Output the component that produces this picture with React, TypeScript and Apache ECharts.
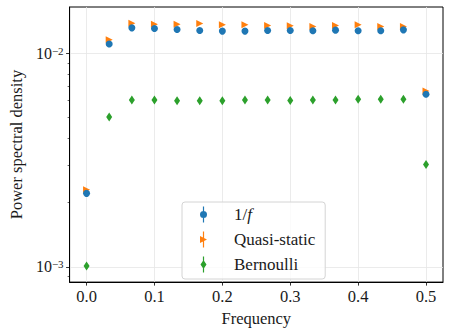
import React, { useEffect, useRef } from "react";
import * as echarts from "echarts";

const frequencies = [0, 0.0333, 0.0667, 0.1, 0.1333, 0.1667, 0.2, 0.2333, 0.2667, 0.3, 0.3333, 0.3667, 0.4, 0.4333, 0.4667, 0.5];
const oneOverF = [0.00221, 0.01106, 0.01316, 0.01306, 0.01293, 0.01279, 0.01271, 0.01271, 0.01279, 0.01279, 0.01275, 0.01284, 0.01275, 0.01275, 0.01288, 0.00643];
const quasiStatic = [0.0023, 0.01158, 0.01384, 0.0137, 0.0137, 0.01379, 0.0136, 0.0136, 0.01349, 0.01345, 0.01335, 0.01349, 0.0136, 0.01335, 0.01335, 0.00666];
const bernoulli = [0.00101, 0.00504, 0.00605, 0.00605, 0.00599, 0.00599, 0.00599, 0.00605, 0.00605, 0.00602, 0.00605, 0.00605, 0.0061, 0.0061, 0.0061, 0.00302];

const seriesNames = ["1/f", "Quasi-static", "Bernoulli"];
const xTicks = [0, 0.1, 0.2, 0.3, 0.4, 0.5];
const yMajorTicks = [0.001, 0.01];
const yMinorTicks = [0.0009, 0.002, 0.003, 0.004, 0.005, 0.006, 0.007, 0.008, 0.009];

const FONT = "'Liberation Serif', 'DejaVu Serif', serif";
const TEXT = "#1a1a1a";
const Y_MIN = 0.000849;
const Y_MAX = 0.01648;

const ICON_F = "path://M2.4,0 H3.6 V16 H2.4 Z M-0.5,8 A3.5,3.5 0 1 1 6.5,8 A3.5,3.5 0 1 1 -0.5,8 Z";
const ICON_Q = "path://M2.4,0 H3.6 V16 H2.4 Z M-0.5,4.5 L6.5,8 L-0.5,11.5 Z";
const ICON_B = "path://M2.4,0 H3.6 V16 H2.4 Z M3,3.5 L6,8 L3,12.5 L0,8 Z";

export default function App() {
  const ref = useRef<HTMLDivElement>(null);
  useEffect(() => {
    document.body.style.margin = "0";
    const chart = echarts.init(ref.current!, null, { renderer: "svg" });
    const pairs = (ys: number[]) => frequencies.map((x, i) => [x, ys[i]]);
    chart.setOption({
      animation: false,
      backgroundColor: "#fff",
      grid: { left: 63, right: 7, top: 7, bottom: 48, show: true, borderColor: "#000", borderWidth: 1 },
      legend: {
        orient: "vertical",
        left: 182,
        top: 202,
        padding: [4, 10, 6, 18],
        itemGap: 8,
        itemWidth: 7,
        itemHeight: 16,
        backgroundColor: "rgba(255,255,255,0.8)",
        borderColor: "#d4d4d4",
        borderWidth: 1,
        borderRadius: 3,
        data: [
          { name: seriesNames[0], icon: ICON_F },
          { name: seriesNames[1], icon: ICON_Q },
          { name: seriesNames[2], icon: ICON_B },
        ],
        formatter: (name: string) => (name === "1/f" ? "{t|1/}{i|f}" : `{t|${name}}`),
        textStyle: {
          fontFamily: FONT,
          fontSize: 17,
          color: TEXT,
          rich: {
            t: { fontFamily: FONT, fontSize: 17, color: TEXT, padding: [0, 0, 0, 22] },
            i: { fontFamily: FONT, fontSize: 17, color: TEXT, fontStyle: "italic" },
          },
        },
      },
      xAxis: {
        type: "value",
        min: -0.025,
        max: 0.525,
        name: "Frequency",
        nameLocation: "middle",
        nameGap: 24,
        nameTextStyle: { fontFamily: FONT, fontSize: 16.5, color: TEXT, verticalAlign: "top" },
        axisLine: { show: true, onZero: false, lineStyle: { color: "#000", width: 1 } },
        axisTick: { show: true, length: 3.5, customValues: xTicks, lineStyle: { color: "#000", width: 0.8 } },
        axisLabel: {
          customValues: xTicks,
          formatter: (v: number) => v.toFixed(1),
          fontFamily: FONT,
          fontSize: 16.5,
          color: TEXT,
          margin: 6,
        },
        splitLine: { show: true, lineStyle: { color: "#e6e6e6", width: 0.8 } },
      },
      yAxis: [
        {
          type: "log",
          logBase: 10,
          min: Y_MIN,
          max: Y_MAX,
          name: "Power spectral density",
          nameLocation: "middle",
          nameGap: 44,
          nameRotate: 90,
          nameTextStyle: { fontFamily: FONT, fontSize: 16.5, color: TEXT },
          axisLine: { show: true, onZero: false, lineStyle: { color: "#000", width: 1 } },
          axisTick: { show: true, length: 3.5, customValues: yMajorTicks, lineStyle: { color: "#000", width: 0.8 } },
          axisLabel: {
            customValues: yMajorTicks,
            margin: 6,
            formatter: (v: number) => {
              const e = Math.round(Math.log10(v));
              return `{b|10}{s|\u2212${-e}}`;
            },
            rich: {
              b: { fontFamily: FONT, fontSize: 16, color: TEXT },
              s: { fontFamily: FONT, fontSize: 11, color: TEXT, verticalAlign: "top", padding: [0, 0, 5, 0] },
            },
          },
          splitLine: { show: true, lineStyle: { color: "#e6e6e6", width: 0.8 } },
        },
        {
          type: "log",
          logBase: 10,
          min: Y_MIN,
          max: Y_MAX,
          position: "left",
          axisLine: { show: false, onZero: false },
          axisTick: { show: true, length: 2, customValues: yMinorTicks, lineStyle: { color: "#000", width: 0.6 } },
          axisLabel: { show: false },
          splitLine: { show: false },
        },
      ],
      series: [
        {
          name: seriesNames[0],
          type: "scatter",
          data: pairs(oneOverF),
          symbol: "circle",
          symbolSize: 7,
          itemStyle: { color: "#1f77b4", opacity: 1 },
          z: 3,
        },
        {
          name: seriesNames[1],
          type: "scatter",
          data: pairs(quasiStatic),
          symbol: "path://M0,0 L10,5 L0,10 Z",
          symbolSize: 7,
          itemStyle: { color: "#ff7f0e", opacity: 1 },
          z: 2,
        },
        {
          name: seriesNames[2],
          type: "scatter",
          data: pairs(bernoulli),
          symbol: "diamond",
          symbolSize: [6, 9],
          itemStyle: { color: "#2ca02c", opacity: 1 },
          z: 4,
        },
      ],
    });
    return () => chart.dispose();
  }, []);
  return <div ref={ref} style={{ position: "fixed", left: 0, top: 0, width: 450, height: 332 }} />;
}
